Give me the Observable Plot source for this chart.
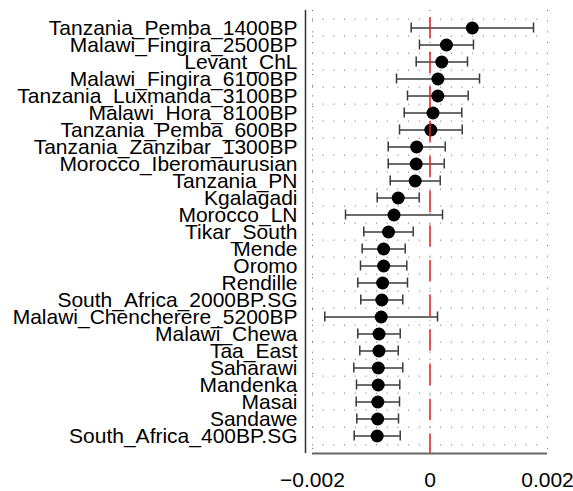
<!DOCTYPE html>
<html>
<head>
<meta charset="utf-8">
<script src="https://cdn.jsdelivr.net/npm/d3@7"></script>
<script src="https://cdn.jsdelivr.net/npm/@observablehq/plot@0.6"></script>
<style>
  html, body { margin: 0; padding: 0; background: white; }
</style>
</head>
<body>
<div id="chart"></div>
<script>
const pops = [
  "Tanzania_Pemba_1400BP", "Malawi_Fingira_2500BP", "Levant_ChL", "Malawi_Fingira_6100BP",
  "Tanzania_Luxmanda_3100BP", "Malawi_Hora_8100BP", "Tanzania_Pemba_600BP", "Tanzania_Zanzibar_1300BP",
  "Morocco_Iberomaurusian", "Tanzania_PN", "Kgalagadi", "Morocco_LN", "Tikar_South", "Mende", "Oromo",
  "Rendille", "South_Africa_2000BP.SG", "Malawi_Chencherere_5200BP", "Malawi_Chewa", "Taa_East",
  "Saharawi", "Mandenka", "Masai", "Sandawe", "South_Africa_400BP.SG"
];
const est = [
  0.00072, 0.00028, 0.00020, 0.000135, 0.000133, 0.000051, 0.000014, -0.000227,
  -0.000235, -0.000252, -0.000541, -0.000613, -0.000706, -0.000789, -0.000789,
  -0.000806, -0.00082, -0.000831, -0.000868, -0.000868, -0.00088, -0.000882, -0.000888, -0.00089, -0.000899
];
const lo = [
  -0.00032, -0.000179, -0.000235, -0.00057, -0.000383, -0.000439, -0.000519, -0.000711,
  -0.000711, -0.000677, -0.000899, -0.001438, -0.001127, -0.001154, -0.001183,
  -0.001229, -0.001178, -0.001791, -0.001229, -0.001195, -0.001297, -0.001251, -0.001256, -0.001246, -0.00129
];
const hi = [
  0.001762, 0.00074, 0.000638, 0.000843, 0.00065, 0.000541, 0.000548, 0.000259,
  0.000242, 0.000174, -0.000184, 0.000213, -0.000286, -0.000422, -0.000395,
  -0.000383, -0.000463, 0.000128, -0.000507, -0.000541, -0.000463, -0.000514, -0.000519, -0.000536, -0.000507
];
const xTicks = [-0.002, 0, 0.002];
const xTickLabels = ["\u22120.002", "0", "0.002"];

const data = pops.map((p, i) => ({pop: p, est: est[i], lo: lo[i], hi: hi[i]}));

const W = 573, H = 491;
const mTop = 10, mBottom = 38, mLeft = 312, mRight = 26;
const bw = (H - mTop - mBottom) / pops.length;
const gridStyle = {stroke: "#666", strokeWidth: 1, strokeDasharray: "1,9.68"};

const chart = Plot.plot({
  width: W,
  height: H,
  marginTop: mTop,
  marginBottom: mBottom,
  marginLeft: mLeft,
  marginRight: mRight,
  style: {
    fontFamily: "'Liberation Sans', Arial, Helvetica, sans-serif",
    fontSize: "21px",
    background: "white",
    color: "black",
    overflow: "visible"
  },
  x: {
    domain: [-0.002, 0.002],
    ticks: xTicks,
    tickFormat: d => xTickLabels[xTicks.indexOf(d)],
    tickSize: 0,
    tickPadding: 19,
    label: null
  },
  y: {domain: pops, padding: 0, tickSize: 0, tickPadding: 15, label: null},
  marks: [
    // dotted horizontal grid at row boundaries
    Plot.ruleY(pops, {y: d => d, dy: -bw / 2, ...gridStyle}),
    Plot.ruleY([pops[pops.length - 1]], {y: d => d, dy: bw / 2, ...gridStyle}),
    // dotted vertical grid at ticks
    Plot.ruleX(xTicks, {x: d => d, ...gridStyle}),
    // error bars
    Plot.ruleY(data, {y: "pop", x1: "lo", x2: "hi", stroke: "#3a3a3a", strokeWidth: 1.5}),
    Plot.tickX(data, {x: "lo", y: "pop", stroke: "#3a3a3a", strokeWidth: 1.5, insetTop: 3.5, insetBottom: 3.5}),
    Plot.tickX(data, {x: "hi", y: "pop", stroke: "#3a3a3a", strokeWidth: 1.5, insetTop: 3.5, insetBottom: 3.5}),
    // points
    Plot.dot(data, {x: "est", y: "pop", r: 6.5, fill: "black", stroke: "none"}),
    // red dashed zero line
    Plot.ruleX([0], {stroke: "#e02020", strokeWidth: 1.5, strokeDasharray: "21.5,13.2", insetTop: 7}),
    // y axis line
    Plot.ruleX([-0.002], {dx: -7, stroke: "#333", strokeWidth: 1.5}),
    // x axis line
    Plot.ruleY([pops[pops.length - 1]], {y: d => d, dy: bw / 2 + 8.7, x1: -0.002, x2: 0.002, stroke: "#666", strokeWidth: 2})
  ]
});

document.getElementById("chart").appendChild(chart);
</script>
</body>
</html>
